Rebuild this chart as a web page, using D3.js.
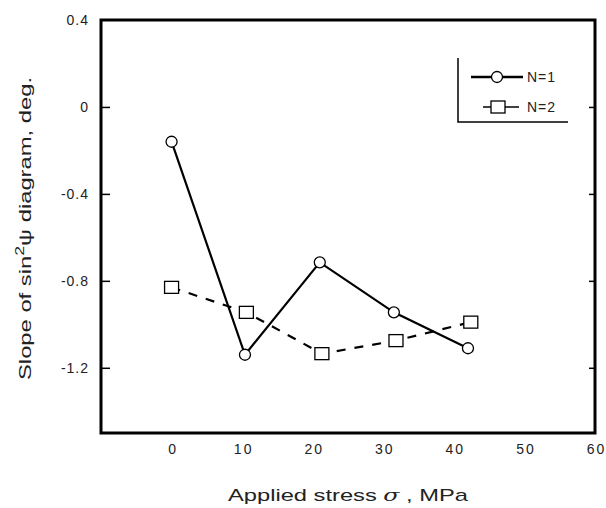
<!DOCTYPE html>
<html>
<head>
<meta charset="utf-8">
<script src="https://cdn.jsdelivr.net/npm/d3@7"></script>
<style>
  body { margin: 0; background: #fff; }
  text { font-family: "Liberation Sans", Arial, sans-serif; fill: #222; }
</style>
</head>
<body>
<svg id="chart" width="606" height="508"></svg>
<script>
// data
const stressN1 = [0, 10.4, 21, 31.5, 42];
const slopeN1 = [-0.16, -1.14, -0.715, -0.945, -1.11];
const stressN2 = [0, 10.6, 21.3, 31.8, 42.4];
const slopeN2 = [-0.83, -0.945, -1.135, -1.075, -0.99];
const xTicks = [0, 10, 20, 30, 40, 50, 60];
const yTicks = [0.4, 0, -0.4, -0.8, -1.2];

const svg = d3.select("#chart");
const margin = {left: 101, top: 20, right: 11, bottom: 75};
const W = 606, H = 508;

// scales
const x = d3.scaleLinear().domain([-10, 60]).range([margin.left, W - margin.right]);
const y = d3.scaleLinear().domain([-1.5, 0.4]).range([H - margin.bottom, margin.top]);

// y axis (ticks pointing inwards), plain hyphen minus like the original
const yAxis = d3.axisLeft(y).tickValues(yTicks).tickSize(-9)
  .tickFormat(d => d === 0 ? "0" : d.toFixed(1));
const gy = svg.append("g").attr("transform", `translate(${margin.left},0)`).call(yAxis);
gy.select(".domain").remove();
gy.selectAll(".tick line").attr("stroke", "#000").attr("stroke-width", 1.5)
  .filter(d => d === 0.4).remove();
gy.selectAll(".tick text").attr("x", -12).style("font-size", "14px")
  .style("letter-spacing", "1px").attr("fill", "#333");

// right side ticks
const yAxisR = d3.axisRight(y).tickValues(yTicks.filter(d => d < 0.4)).tickSize(-6).tickFormat("");
const gyr = svg.append("g").attr("transform", `translate(${W - margin.right},0)`).call(yAxisR);
gyr.select(".domain").remove();
gyr.selectAll(".tick line").attr("stroke", "#000").attr("stroke-width", 1.5);

// x labels (no tick marks)
const xAxis = d3.axisBottom(x).tickValues(xTicks).tickSize(0).tickPadding(11);
const gx = svg.append("g").attr("transform", `translate(0,${H - margin.bottom})`).call(xAxis);
gx.select(".domain").remove();
gx.selectAll(".tick text").style("font-size", "14px").style("letter-spacing", "2px")
  .attr("dx", 1).attr("fill", "#333");

// frame
svg.append("rect")
  .attr("x", margin.left).attr("y", margin.top)
  .attr("width", W - margin.left - margin.right)
  .attr("height", H - margin.top - margin.bottom)
  .attr("fill", "none").attr("stroke", "#000").attr("stroke-width", 3);

const line = d3.line().x(d => x(d[0])).y(d => y(d[1]));
const ptsN1 = stressN1.map((s, i) => [s, slopeN1[i]]);
const ptsN2 = stressN2.map((s, i) => [s, slopeN2[i]]);

// N=2 dashed line with squares
svg.append("path").datum(ptsN2).attr("d", line)
  .attr("fill", "none").attr("stroke", "#000").attr("stroke-width", 2.2)
  .attr("stroke-dasharray", "9,9");

// N=1 solid line with circles
svg.append("path").datum(ptsN1).attr("d", line)
  .attr("fill", "none").attr("stroke", "#000").attr("stroke-width", 2.2);

svg.selectAll(".sq").data(ptsN2).enter().append("rect")
  .attr("x", d => x(d[0]) - 7).attr("y", d => y(d[1]) - 6)
  .attr("width", 14).attr("height", 12)
  .attr("fill", "#fff").attr("stroke", "#000").attr("stroke-width", 1.3);

svg.selectAll(".ci").data(ptsN1).enter().append("circle")
  .attr("cx", d => x(d[0])).attr("cy", d => y(d[1])).attr("r", 5.5)
  .attr("fill", "#fff").attr("stroke", "#000").attr("stroke-width", 1.3);

// legend
const lg = svg.append("g");
lg.append("path").attr("d", "M458,58V122H568").attr("fill", "none")
  .attr("stroke", "#000").attr("stroke-width", 1.5);
lg.append("line").attr("x1", 471).attr("x2", 523).attr("y1", 77).attr("y2", 77)
  .attr("stroke", "#000").attr("stroke-width", 2.5);
lg.append("circle").attr("cx", 497).attr("cy", 77).attr("r", 5.5)
  .attr("fill", "#fff").attr("stroke", "#000").attr("stroke-width", 1.3);
lg.append("text").attr("x", 527).attr("y", 82).style("font-size", "14px")
  .style("letter-spacing", "1px").text("N=1");
lg.append("line").attr("x1", 483).attr("x2", 519).attr("y1", 107).attr("y2", 107)
  .attr("stroke", "#000").attr("stroke-width", 1.3);
lg.append("rect").attr("x", 491).attr("y", 101).attr("width", 14).attr("height", 12)
  .attr("fill", "#fff").attr("stroke", "#000").attr("stroke-width", 1.3);
lg.append("text").attr("x", 527).attr("y", 112).style("font-size", "14px")
  .style("letter-spacing", "1px").text("N=2");

// axis titles, stretched to the lengths seen in the original
svg.append("text").attr("x", 228).attr("y", 501)
  .attr("textLength", 240).attr("lengthAdjust", "spacingAndGlyphs")
  .style("font-size", "17px")
  .html('Applied stress <tspan font-style="italic" font-family="DejaVu Serif">σ</tspan> , MPa');

svg.append("text").attr("transform", "translate(31,380) rotate(-90)")
  .attr("textLength", 303).attr("lengthAdjust", "spacingAndGlyphs")
  .style("font-size", "16px")
  .html('Slope of sin<tspan dy="-7" font-size="12px">2</tspan><tspan dy="7">ψ diagram, deg.</tspan>');
</script>
</body>
</html>
